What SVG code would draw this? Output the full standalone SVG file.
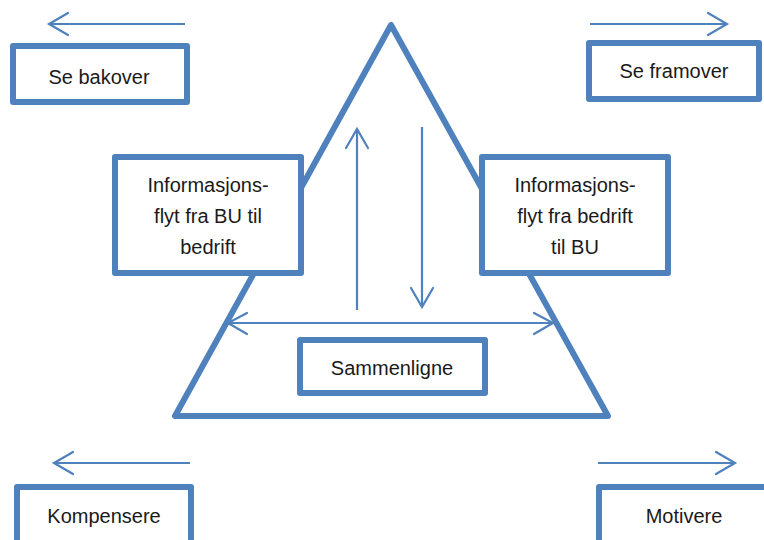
<svg xmlns="http://www.w3.org/2000/svg" width="764" height="540" viewBox="0 0 764 540">
  <defs>
    <style>
      .box { fill: #ffffff; stroke: #4f81bd; stroke-width: 6; stroke-linejoin: round; }
      .tri { fill: none; stroke: #4f81bd; stroke-width: 6; stroke-linejoin: round; }
      .line { fill: none; stroke: #4f81bd; stroke-width: 2.2; }
      .head { fill: none; stroke: #4f81bd; stroke-width: 2.2; stroke-linecap: round; stroke-linejoin: miter; }
      text { font-family: "Liberation Sans", Arial, sans-serif; font-size: 20px; fill: #1a1a1a; text-anchor: middle; }
    </style>
  </defs>
  <rect width="764" height="540" fill="#ffffff"/>

  <!-- pyramid -->
  <polygon class="tri" points="391,25 175,416 608,416"/>

  <g id="connectors">
    <!-- outer direction arrows -->
    <line class="line" x1="185" y1="24" x2="50" y2="24"/>
    <polyline class="head" points="68,13 49,24 68,35"/>
    <line class="line" x1="590" y1="24" x2="726" y2="24"/>
    <polyline class="head" points="708,13 727,24 708,35"/>
    <line class="line" x1="190" y1="463" x2="55" y2="463"/>
    <polyline class="head" points="73,452 54,463 73,474"/>
    <line class="line" x1="598" y1="463" x2="734" y2="463"/>
    <polyline class="head" points="716,452 735,463 716,474"/>
    <!-- inner flow arrows -->
    <line class="line" x1="357" y1="310" x2="357" y2="130"/>
    <polyline class="head" points="346,148 357,129 368,148"/>
    <line class="line" x1="422" y1="127" x2="422" y2="306"/>
    <polyline class="head" points="411,288 422,307 433,288"/>
    <line class="line" x1="229" y1="323" x2="552" y2="323"/>
    <polyline class="head" points="247,313 228,323 247,334"/>
    <polyline class="head" points="534,313 553,323 534,334"/>
  </g>

  <g id="se-bakover">
    <rect class="box" x="13" y="46" width="174" height="56"/>
    <text x="99" y="84">Se bakover</text>
  </g>
  <g id="se-framover">
    <rect class="box" x="589" y="43" width="170" height="56"/>
    <text x="674" y="78">Se framover</text>
  </g>
  <g id="info-bu-bedrift">
    <rect class="box" x="115" y="157" width="186" height="116"/>
    <text x="208" y="192">Informasjons-</text>
    <text x="208" y="223">flyt fra BU til</text>
    <text x="208" y="254">bedrift</text>
  </g>
  <g id="info-bedrift-bu">
    <rect class="box" x="482" y="157" width="186" height="116"/>
    <text x="575" y="192">Informasjons-</text>
    <text x="575" y="223">flyt fra bedrift</text>
    <text x="575" y="254">til BU</text>
  </g>
  <g id="sammenligne">
    <rect class="box" x="300" y="340" width="185" height="53"/>
    <text x="392" y="375">Sammenligne</text>
  </g>
  <g id="kompensere">
    <rect class="box" x="17" y="487" width="174" height="70"/>
    <text x="104" y="523">Kompensere</text>
  </g>
  <g id="motivere">
    <rect class="box" x="599" y="487" width="170" height="70"/>
    <text x="684" y="523">Motivere</text>
  </g>
</svg>
